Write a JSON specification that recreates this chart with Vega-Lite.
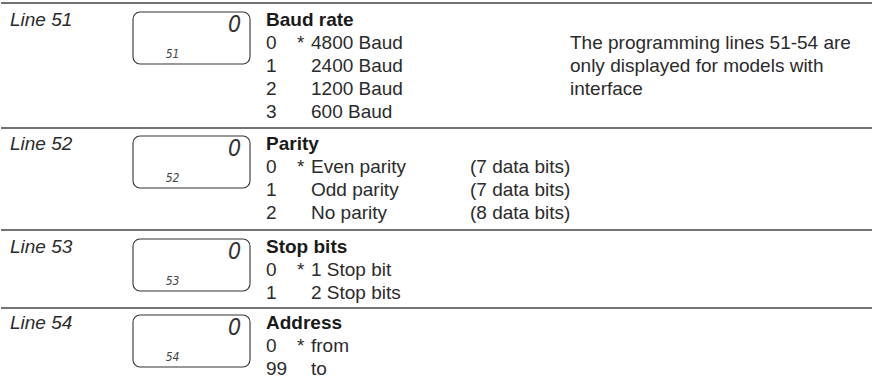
{
  "$schema": "https://vega.github.io/schema/vega-lite/v6.json",
  "width": 873,
  "height": 379,
  "autosize": {"type": "fit", "contains": "padding"},
  "padding": 0,
  "background": "white",
  "config": {"view": {"stroke": null}},
  "datasets": {
    "items": [
      {"line": 0, "col": 1, "kind": "label", "text": "Line 51"},
      {"line": 0, "col": 3, "kind": "title", "text": "Baud rate"},
      {"line": 1, "col": 3, "kind": "body", "text": "0"},
      {"line": 1, "col": 4, "kind": "body", "text": "*"},
      {"line": 1, "col": 5, "kind": "body", "text": "4800 Baud"},
      {"line": 1, "col": 7, "kind": "body", "text": "The programming lines 51-54 are"},
      {"line": 2, "col": 3, "kind": "body", "text": "1"},
      {"line": 2, "col": 5, "kind": "body", "text": "2400 Baud"},
      {"line": 2, "col": 7, "kind": "body", "text": "only displayed for models with"},
      {"line": 3, "col": 3, "kind": "body", "text": "2"},
      {"line": 3, "col": 5, "kind": "body", "text": "1200 Baud"},
      {"line": 3, "col": 7, "kind": "body", "text": "interface"},
      {"line": 4, "col": 3, "kind": "body", "text": "3"},
      {"line": 4, "col": 5, "kind": "body", "text": "600 Baud"},
      {"line": 5, "col": 1, "kind": "label", "text": "Line 52"},
      {"line": 5, "col": 3, "kind": "title", "text": "Parity"},
      {"line": 6, "col": 3, "kind": "body", "text": "0"},
      {"line": 6, "col": 4, "kind": "body", "text": "*"},
      {"line": 6, "col": 5, "kind": "body", "text": "Even parity"},
      {"line": 6, "col": 6, "kind": "body", "text": "(7 data bits)"},
      {"line": 7, "col": 3, "kind": "body", "text": "1"},
      {"line": 7, "col": 5, "kind": "body", "text": "Odd parity"},
      {"line": 7, "col": 6, "kind": "body", "text": "(7 data bits)"},
      {"line": 8, "col": 3, "kind": "body", "text": "2"},
      {"line": 8, "col": 5, "kind": "body", "text": "No parity"},
      {"line": 8, "col": 6, "kind": "body", "text": "(8 data bits)"},
      {"line": 9, "col": 1, "kind": "label", "text": "Line 53"},
      {"line": 9, "col": 3, "kind": "title", "text": "Stop bits"},
      {"line": 10, "col": 3, "kind": "body", "text": "0"},
      {"line": 10, "col": 4, "kind": "body", "text": "*"},
      {"line": 10, "col": 5, "kind": "body", "text": "1 Stop bit"},
      {"line": 11, "col": 3, "kind": "body", "text": "1"},
      {"line": 11, "col": 5, "kind": "body", "text": "2 Stop bits"},
      {"line": 12, "col": 1, "kind": "label", "text": "Line 54"},
      {"line": 12, "col": 3, "kind": "title", "text": "Address"},
      {"line": 13, "col": 3, "kind": "body", "text": "0"},
      {"line": 13, "col": 4, "kind": "body", "text": "*"},
      {"line": 13, "col": 5, "kind": "body", "text": "from"},
      {"line": 14, "col": 3, "kind": "body", "text": "99"},
      {"line": 14, "col": 5, "kind": "body", "text": "to"}
    ],
    "sections": [
      {"line": 0, "code": "51", "value": "0"},
      {"line": 5, "code": "52", "value": "0"},
      {"line": 9, "code": "53", "value": "0"},
      {"line": 12, "code": "54", "value": "0"}
    ],
    "rules": [
      {"line": -0.5},
      {"line": 4.5},
      {"line": 8.5},
      {"line": 11.5}
    ]
  },
  "encoding": {
    "y": {
      "field": "line",
      "type": "quantitative",
      "axis": null,
      "scale": {
        "zero": false,
        "nice": false,
        "domain": [-0.5, 0, 4, 5, 8, 9, 11, 12, 14],
        "range": [3, 20, 112, 144, 213, 247, 293, 323, 369]
      }
    }
  },
  "layer": [
    {
      "data": {"name": "rules"},
      "mark": {"type": "rule", "stroke": "#444444", "strokeWidth": 1.6},
      "encoding": {}
    },
    {
      "data": {"name": "sections"},
      "mark": {"type": "rect", "width": 117, "height": 52, "cornerRadius": 7, "fill": "white", "stroke": "#333333", "strokeWidth": 1.1, "yOffset": 18},
      "encoding": {
        "x": {"datum": 2, "type": "quantitative", "axis": null, "scale": {"zero": false, "nice": false, "domain": [1, 2, 3, 4, 5, 6, 7], "range": [9, 190.5, 265, 296, 310, 469, 569]}}
      }
    },
    {
      "data": {"name": "sections"},
      "mark": {"type": "text", "align": "center", "baseline": "middle", "dx": 43, "dy": 5, "font": "Liberation Sans Narrow, DejaVu Sans Condensed, Liberation Sans, sans-serif", "fontStyle": "italic", "fontSize": 23, "color": "#333333"},
      "encoding": {
        "x": {"datum": 2, "type": "quantitative"},
        "text": {"field": "value"}
      }
    },
    {
      "data": {"name": "sections"},
      "mark": {"type": "text", "align": "center", "baseline": "middle", "dx": -19, "dy": 34, "font": "Liberation Sans Narrow, DejaVu Sans Condensed, Liberation Sans, sans-serif", "fontStyle": "italic", "fontSize": 12, "color": "#444444"},
      "encoding": {
        "x": {"datum": 2, "type": "quantitative"},
        "text": {"field": "code"}
      }
    },
    {
      "data": {"name": "items"},
      "transform": [{"filter": "datum.kind === 'label'"}],
      "mark": {"type": "text", "align": "left", "baseline": "middle", "font": "Liberation Sans", "fontStyle": "italic", "fontSize": 19, "color": "#2b2b2b"},
      "encoding": {
        "x": {"field": "col", "type": "quantitative"},
        "text": {"field": "text"}
      }
    },
    {
      "data": {"name": "items"},
      "transform": [{"filter": "datum.kind === 'title'"}],
      "mark": {"type": "text", "align": "left", "baseline": "middle", "font": "Liberation Sans", "fontWeight": "bold", "fontSize": 19, "color": "#1a1a1a"},
      "encoding": {
        "x": {"field": "col", "type": "quantitative"},
        "text": {"field": "text"}
      }
    },
    {
      "data": {"name": "items"},
      "transform": [{"filter": "datum.kind === 'body'"}],
      "mark": {"type": "text", "align": "left", "baseline": "middle", "font": "Liberation Sans", "fontSize": 19, "color": "#2b2b2b"},
      "encoding": {
        "x": {"field": "col", "type": "quantitative"},
        "text": {"field": "text"}
      }
    }
  ]
}
